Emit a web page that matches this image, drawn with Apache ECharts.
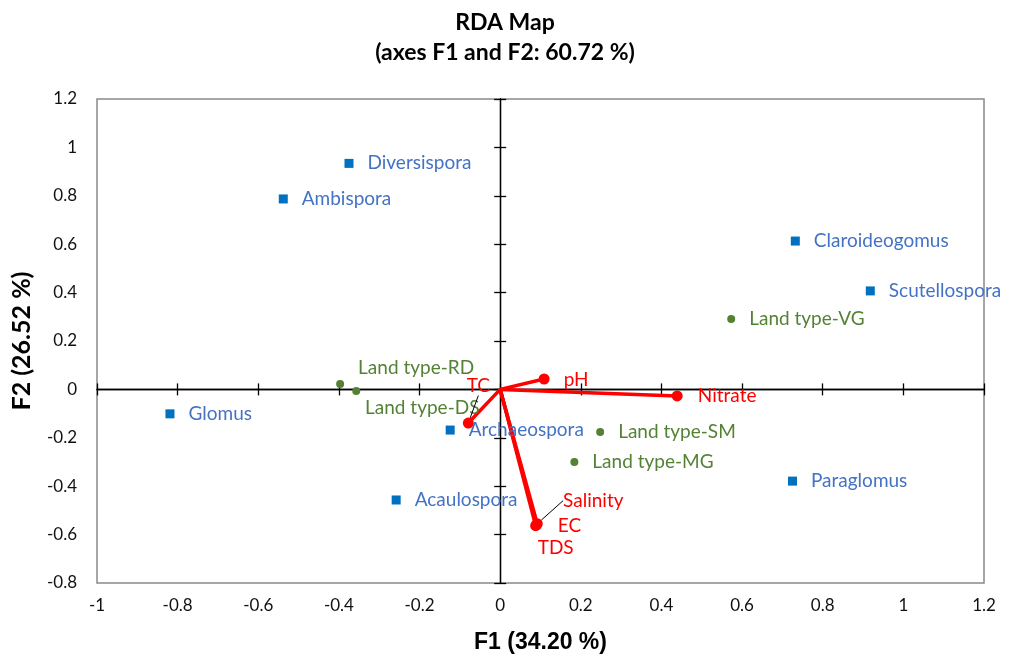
<!DOCTYPE html>
<html>
<head>
<meta charset="utf-8">
<script src="https://cdn.jsdelivr.net/npm/echarts@6/dist/echarts.min.js"></script>
<style>html,body{margin:0;padding:0;background:#fff;}#c{width:1013px;height:662px;}</style>
</head>
<body>
<div id="c"></div>
<script>
// ---- data ----
var speciesNames = ['Diversispora','Ambispora','Claroideogomus','Scutellospora','Glomus','Archaeospora','Acaulospora','Paraglomus'];
var speciesF1 = [-0.375,-0.538,0.732,0.918,-0.819,-0.124,-0.258,0.725];
var speciesF2 = [0.934,0.787,0.613,0.407,-0.101,-0.168,-0.457,-0.379];

var landNames = ['Land type-VG','Land type-RD','Land type-DS','Land type-SM','Land type-MG'];
var landF1 = [0.573,-0.397,-0.357,0.248,0.184];
var landF2 = [0.291,0.022,-0.007,-0.176,-0.300];

var envNames = ['pH','Nitrate','TC','Salinity','EC','TDS'];
var envF1 = [0.109,0.439,-0.079,0.092,0.090,0.088];
var envF2 = [0.043,-0.027,-0.139,-0.555,-0.560,-0.563];

var xTicks = [-1,-0.8,-0.6,-0.4,-0.2,0,0.2,0.4,0.6,0.8,1,1.2];
var yTicks = [-0.8,-0.6,-0.4,-0.2,0,0.2,0.4,0.6,0.8,1,1.2];

// ---- styles ----
var FONT = 'Lato';
var LABEL_SIZE = 19;
var landLabelOffsets = {'Land type-RD':[76,-16],'Land type-DS':[66,17]};
var envLabelShift = {'pH':[32,1],'Nitrate':[50,0],'TC':[10,-37],'Salinity':[56,-23],'EC':[33,1],'TDS':[20,22]};
var envLeader = {'TC':true,'Salinity':true};

var chart = echarts.init(document.getElementById('c'));

var speciesData = speciesNames.map(function(n,i){return {name:n,value:[speciesF1[i],speciesF2[i]]};});
var landData = landNames.map(function(n,i){
  var d = {name:n,value:[landF1[i],landF2[i]]};
  if (landLabelOffsets[n]) d.label = {position:'inside', offset:landLabelOffsets[n]};
  return d;
});
var envData = envNames.map(function(n,i){
  var d = {name:n,value:[envF1[i],envF2[i]]};
  if (envLeader[n]) d.labelLine = {show:true, lineStyle:{color:'#000', width:1}};
  return d;
});

var series = [];
envNames.forEach(function(n,i){
  series.push({
    type:'line', data:[[0,0],[envF1[i],envF2[i]]], symbol:'none',
    lineStyle:{color:'#FF0000', width:3.5}, z:3, silent:true, animation:false
  });
});
series.push({
  type:'scatter', name:'species', data:speciesData, symbol:'rect', symbolSize:9,
  itemStyle:{color:'#0070C0', opacity:1}, z:4,
  label:{show:true, position:'right', distance:14, formatter:'{b}', color:'#4472C4', fontFamily:FONT, fontSize:LABEL_SIZE}
});
series.push({
  type:'scatter', name:'land', data:landData, symbol:'circle', symbolSize:8,
  itemStyle:{color:'#548235', opacity:1}, z:4,
  label:{show:true, position:'right', distance:14, formatter:'{b}', color:'#548235', fontFamily:FONT, fontSize:LABEL_SIZE}
});
series.push({
  type:'scatter', name:'env', data:envData, symbol:'circle', symbolSize:11,
  itemStyle:{color:'#FF0000', opacity:1}, z:5,
  label:{show:true, position:'inside', formatter:'{b}', color:'#FF0000', fontFamily:FONT, fontSize:LABEL_SIZE},
  labelLine:{show:false},
  labelLayout:function(p){
    var s = envLabelShift[envNames[p.dataIndex]];
    return {dx:s[0], dy:s[1]};
  }
});

function fmt(v){return String(Math.round(v*10)/10);}
var zeroLine = {show:true, onZero:true, lineStyle:{color:'#000', width:1.3}};
var zeroTick = {show:true, length:6, lineStyle:{color:'#000', width:1.3}};

chart.setOption({
  animation:false,
  title:{
    text:'RDA Map\n(axes F1 and F2: 60.72 %)', left:500, textAlign:'center', top:3,
    textStyle:{fontFamily:FONT, fontSize:23, fontWeight:'bold', color:'#000', lineHeight:30}
  },
  grid:{left:97, right:29, top:99, bottom:79, show:true, borderColor:'#898989', borderWidth:1.5,
        backgroundColor:'transparent', containLabel:false, outerBoundsMode:'none'},
  xAxis:[
    {type:'value', min:-1, max:1.2, interval:0.2, position:'bottom',
     axisLine:{show:false, onZero:false}, axisTick:{show:false},
     axisLabel:{margin:14, color:'#111', fontFamily:FONT, fontSize:17, formatter:fmt},
     splitLine:{show:false},
     name:'F1 (34.20 %)', nameLocation:'middle', nameGap:48,
     nameTextStyle:{fontFamily:'Liberation Sans', fontSize:23, fontWeight:'bold', color:'#000'}},
    {type:'value', min:-1, max:1.2, interval:0.2, position:'bottom',
     axisLine:zeroLine, axisTick:zeroTick, axisLabel:{show:false}, splitLine:{show:false}},
    {type:'value', min:-1, max:1.2, interval:0.2, position:'top',
     axisLine:zeroLine, axisTick:zeroTick, axisLabel:{show:false}, splitLine:{show:false}}
  ],
  yAxis:[
    {type:'value', min:-0.8, max:1.2, interval:0.2, position:'left',
     axisLine:{show:false, onZero:false}, axisTick:{show:false},
     axisLabel:{margin:20, color:'#111', fontFamily:FONT, fontSize:17, formatter:fmt},
     splitLine:{show:false},
     name:'F2 (26.52 %)', nameLocation:'middle', nameGap:63,
     nameTextStyle:{fontFamily:FONT, fontSize:25, fontWeight:'bold', color:'#000'}},
    {type:'value', min:-0.8, max:1.2, interval:0.2, position:'left',
     axisLine:zeroLine, axisTick:zeroTick, axisLabel:{show:false}, splitLine:{show:false}},
    {type:'value', min:-0.8, max:1.2, interval:0.2, position:'right',
     axisLine:zeroLine, axisTick:zeroTick, axisLabel:{show:false}, splitLine:{show:false}}
  ],
  series:series
});
</script>
</body>
</html>
